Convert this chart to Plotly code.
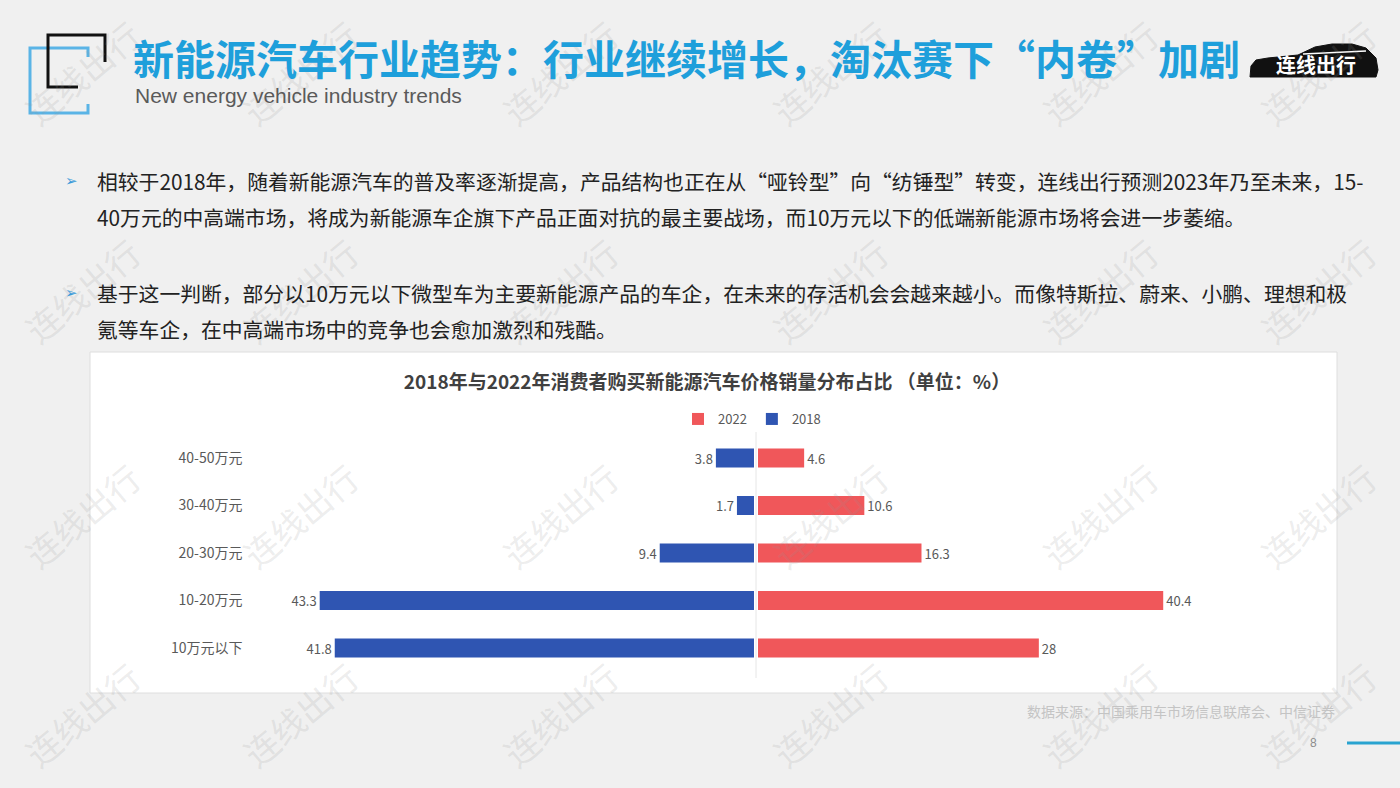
import plotly.graph_objects as go

# ---------------- data ----------------
categories = ["40-50万元", "30-40万元", "20-30万元", "10-20万元", "10万元以下"]
share_2018 = [3.8, 1.7, 9.4, 43.3, 41.8]
share_2022 = [4.6, 10.6, 16.3, 40.4, 28]
series_names = ["2022", "2018"]

page_title = "新能源汽车行业趋势：行业继续增长，淘汰赛下“内卷”加剧"
page_subtitle = "New energy vehicle industry trends"
chart_title = "2018年与2022年消费者购买新能源汽车价格销量分布占比 （单位：%）"
body_lines = [
    "相较于2018年，随着新能源汽车的普及率逐渐提高，产品结构也正在从“哑铃型”向“纺锤型”转变，连线出行预测2023年乃至未来，15-",
    "40万元的中高端市场，将成为新能源车企旗下产品正面对抗的最主要战场，而10万元以下的低端新能源市场将会进一步萎缩。",
    "基于这一判断，部分以10万元以下微型车为主要新能源产品的车企，在未来的存活机会会越来越小。而像特斯拉、蔚来、小鹏、理想和极",
    "氪等车企，在中高端市场中的竞争也会愈加激烈和残酷。",
]
source_text = "数据来源：中国乘用车市场信息联席会、中信证券"
page_number = "8"
watermark = "连线出行"

# ---------------- helpers ----------------
W, H = 1400, 788
def fx(x):
    return x / W
def fy(y):
    return 1 - y / H
def path(points, close=False):
    s = "M " + " L ".join(f"{fx(x):.5f},{fy(y):.5f}" for x, y in points)
    return s + (" Z" if close else "")

CJK = "Noto Sans CJK SC"
BLUE = "#2f55b2"
RED = "#f0575a"
LABEL = "#595959"

fig = go.Figure()
fig.add_trace(go.Bar(
    name=series_names[0], y=categories, x=share_2022, orientation="h",
    xaxis="x2", yaxis="y", marker=dict(color=RED, line=dict(width=0)),
    text=[str(v) for v in share_2022], textposition="outside", cliponaxis=False,
    textfont=dict(family=CJK, size=13, color=LABEL),
))
fig.add_trace(go.Bar(
    name=series_names[1], y=categories, x=share_2018, orientation="h",
    xaxis="x", yaxis="y", marker=dict(color=BLUE, line=dict(width=0)),
    text=[str(v) for v in share_2018], textposition="outside", cliponaxis=False,
    textfont=dict(family=CJK, size=13, color=LABEL),
))

shapes = []
# chart white box
shapes.append(dict(type="rect", xref="paper", yref="paper",
                   x0=fx(90), x1=fx(1337), y0=fy(693), y1=fy(352),
                   fillcolor="white", line=dict(color="#dedede", width=1), layer="below"))
# center line
shapes.append(dict(type="line", xref="paper", yref="paper",
                   x0=fx(756), x1=fx(756), y0=fy(432), y1=fy(678),
                   line=dict(color="#e6e6e6", width=1), layer="below"))
# logo brackets
shapes.append(dict(type="path", xref="paper", yref="paper",
                   path=path([(88, 57), (88, 48), (30, 48), (30, 113), (88, 113), (88, 104)]),
                   line=dict(color="#5ab4e6", width=3)))
shapes.append(dict(type="path", xref="paper", yref="paper",
                   path=path([(105, 62), (105, 35), (48, 35), (48, 87), (78, 87)]),
                   line=dict(color="#111111", width=3)))
# car logo silhouette
shapes.append(dict(type="path", xref="paper", yref="paper",
                   path=path([(1250, 77), (1251, 66), (1256, 60), (1268, 58), (1298, 55),
                              (1315, 47), (1332, 44), (1352, 44), (1366, 48), (1376, 58),
                              (1378, 70), (1376, 77)], close=True),
                   fillcolor="#111111", line=dict(color="#111111", width=1)))
shapes.append(dict(type="line", xref="paper", yref="paper",
                   x0=fx(1303), x1=fx(1366), y0=fy(54), y1=fy(51),
                   line=dict(color="white", width=1.5)))
# page-corner blue line
shapes.append(dict(type="line", xref="paper", yref="paper",
                   x0=fx(1347), x1=fx(1400), y0=fy(743), y1=fy(743),
                   line=dict(color="#29a3d0", width=3)))

annotations = []
# watermarks (drawn first so other texts sit above)
for wy in (72, 290, 515, 714):
    for wx in (82, 300, 560, 830, 1100, 1318):
        annotations.append(dict(text=watermark, x=fx(wx), y=fy(wy), xref="paper", yref="paper",
                                xanchor="center", yanchor="middle", showarrow=False, textangle=-40,
                                font=dict(family=CJK, size=34, color="rgba(150,150,150,0.18)")))
# page title + subtitle
annotations.append(dict(text=f"<b>{page_title}</b>", x=fx(131), y=fy(57), xref="paper", yref="paper",
                        xanchor="left", yanchor="middle", showarrow=False,
                        font=dict(family=CJK, size=41, color="#1e9fdb")))
annotations.append(dict(text=page_subtitle, x=fx(133), y=fy(95), xref="paper", yref="paper",
                        xanchor="left", yanchor="middle", showarrow=False,
                        font=dict(family="Liberation Sans", size=21, color="#5a5a5a")))
annotations.append(dict(text="<b>连线出行</b>", x=fx(1316), y=fy(64), xref="paper", yref="paper",
                        xanchor="center", yanchor="middle", showarrow=False,
                        font=dict(family=CJK, size=20, color="white")))
# bullets and body text
line_y = [181, 217, 293, 329]
for txt, yy in zip(body_lines, line_y):
    annotations.append(dict(text=txt, x=fx(95), y=fy(yy), xref="paper", yref="paper",
                            xanchor="left", yanchor="middle", showarrow=False,
                            font=dict(family=CJK, size=20.8, color="#222222")))
for yy in (181, 293):
    annotations.append(dict(text="➢", x=fx(71), y=fy(yy), xref="paper", yref="paper",
                            xanchor="center", yanchor="middle", showarrow=False,
                            font=dict(family="DejaVu Sans", size=15, color="#3a9ad9")))
# source + page number
annotations.append(dict(text=source_text, x=fx(1337), y=fy(711), xref="paper", yref="paper",
                        xanchor="right", yanchor="middle", showarrow=False,
                        font=dict(family=CJK, size=14, color="#c4c4c4")))
annotations.append(dict(text=page_number, x=fx(1313), y=fy(743), xref="paper", yref="paper",
                        xanchor="center", yanchor="middle", showarrow=False,
                        font=dict(family="Liberation Sans", size=12, color="#8c8c8c")))

fig.update_layout(
    width=W, height=H, margin=dict(l=0, r=0, t=0, b=0),
    paper_bgcolor="#f0f0f0", plot_bgcolor="rgba(0,0,0,0)",
    font=dict(family=CJK, color=LABEL),
    title=dict(text=f"<b>{chart_title}</b>", x=fx(707), y=fy(382), xref="paper", yref="paper",
               xanchor="center", yanchor="middle",
               font=dict(family=CJK, size=19, color="#404040")),
    showlegend=True,
    legend=dict(orientation="h", x=fx(752), xanchor="center", y=fy(419), yanchor="middle",
                font=dict(family=CJK, size=13, color=LABEL), bgcolor="rgba(0,0,0,0)",
                itemwidth=30, traceorder="normal"),
    bargap=0.6,
    xaxis=dict(domain=[fx(252.5), fx(754)], range=[50, 0], showgrid=False, zeroline=False,
               showticklabels=False, showline=False, ticks="", anchor="y"),
    xaxis2=dict(domain=[fx(758), fx(1259.5)], range=[0, 50], showgrid=False, zeroline=False,
                showticklabels=False, showline=False, ticks="", anchor="y"),
    yaxis=dict(domain=[fy(671.75), fy(434.25)], autorange="reversed", anchor="x",
               showgrid=False, zeroline=False, showline=False, ticks="",
               ticklabelstandoff=9, tickfont=dict(family=CJK, size=14, color=LABEL)),
    shapes=shapes, annotations=annotations,
)

fig.write_html("out.html", config={"displayModeBar": False},
               post_script="document.body.style.margin='0';document.body.style.overflow='hidden';")
